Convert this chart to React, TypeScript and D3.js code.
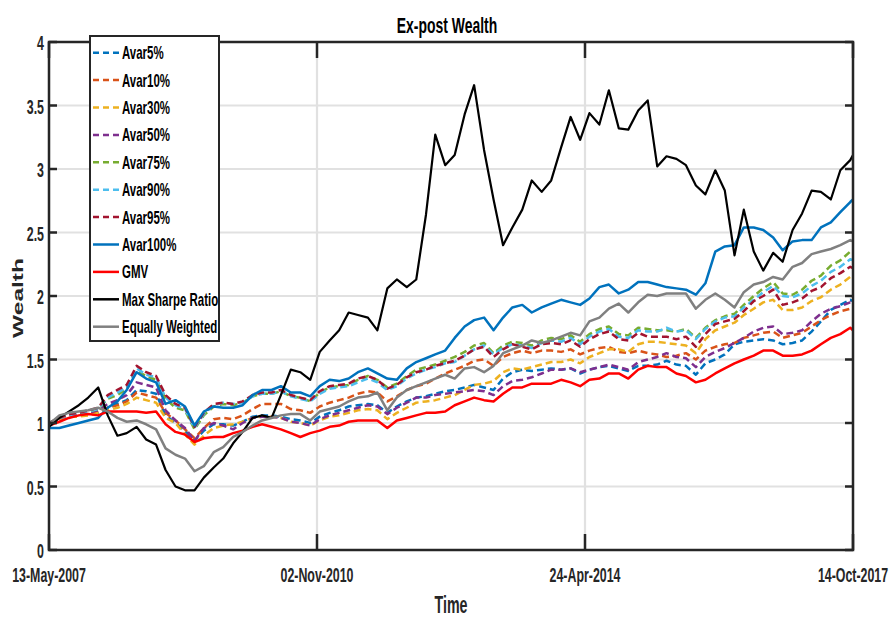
import React from 'react';
import * as d3 from 'd3';

// Sample dates (every ~1.5 months)
const dates = [
  "2007-05-13","2007-07-01","2007-08-15","2007-10-01","2007-11-15",
  "2008-01-01","2008-02-15","2008-04-01","2008-05-15","2008-07-01","2008-08-15","2008-10-01","2008-11-15",
  "2009-01-01","2009-02-15","2009-04-01","2009-05-15","2009-07-01","2009-08-15","2009-10-01","2009-11-15",
  "2010-01-01","2010-02-15","2010-04-01","2010-05-15","2010-07-01","2010-08-15","2010-10-01","2010-11-15",
  "2011-01-01","2011-02-15","2011-04-01","2011-05-15","2011-07-01","2011-08-15","2011-10-01","2011-11-15",
  "2012-01-01","2012-02-15","2012-04-01","2012-05-15","2012-07-01","2012-08-15","2012-10-01","2012-11-15",
  "2013-01-01","2013-02-15","2013-04-01","2013-05-15","2013-07-01","2013-08-15","2013-10-01","2013-11-15",
  "2014-01-01","2014-02-15","2014-04-01","2014-05-15","2014-07-01","2014-08-15","2014-10-01","2014-11-15",
  "2015-01-01","2015-02-15","2015-04-01","2015-05-15","2015-07-01","2015-08-15","2015-10-01","2015-11-15",
  "2016-01-01","2016-02-15","2016-04-01","2016-05-15","2016-07-01","2016-08-15","2016-10-01","2016-11-15",
  "2017-01-01","2017-02-15","2017-04-01","2017-05-15","2017-07-01","2017-08-15","2017-10-01","2017-10-14"
];

const avar5 = [
  1.00,1.03,1.05,1.06,1.07,1.08,1.12,1.15,1.18,1.26,
  1.25,1.23,1.06,1.00,0.94,0.86,0.94,0.99,0.99,0.98,
  1.01,1.05,1.06,1.06,1.05,1.03,1.02,1.00,1.05,1.08,
  1.10,1.13,1.14,1.15,1.14,1.08,1.13,1.17,1.20,1.21,
  1.23,1.25,1.26,1.28,1.30,1.28,1.26,1.35,1.40,1.42,
  1.41,1.42,1.43,1.42,1.43,1.39,1.42,1.44,1.45,1.43,
  1.41,1.45,1.45,1.46,1.49,1.46,1.45,1.38,1.47,1.50,
  1.54,1.62,1.64,1.65,1.66,1.65,1.62,1.63,1.65,1.72,
  1.80,1.89,1.93,1.97,1.96
];
const avar10 = [
  1.00,1.03,1.06,1.06,1.07,1.09,1.12,1.14,1.17,1.24,
  1.22,1.20,1.08,1.02,0.95,0.88,0.96,1.03,1.04,1.03,
  1.06,1.11,1.15,1.15,1.15,1.11,1.10,1.08,1.13,1.16,
  1.18,1.20,1.23,1.25,1.24,1.17,1.21,1.26,1.29,1.31,
  1.35,1.39,1.42,1.45,1.49,1.50,1.45,1.52,1.55,1.57,
  1.55,1.57,1.57,1.56,1.58,1.54,1.57,1.59,1.60,1.56,
  1.55,1.57,1.55,1.54,1.52,1.53,1.55,1.50,1.57,1.60,
  1.62,1.63,1.67,1.69,1.71,1.72,1.67,1.69,1.71,1.76,
  1.81,1.85,1.88,1.90,1.89
];
const avar30 = [
  1.00,1.03,1.05,1.05,1.06,1.08,1.10,1.12,1.15,1.20,
  1.18,1.16,1.04,1.00,0.91,0.83,0.90,0.96,0.98,0.99,
  1.01,1.04,1.05,1.05,1.04,1.01,1.00,0.98,1.02,1.05,
  1.06,1.08,1.10,1.11,1.10,1.03,1.08,1.12,1.16,1.17,
  1.18,1.20,1.22,1.26,1.30,1.31,1.33,1.40,1.43,1.42,
  1.44,1.46,1.48,1.48,1.50,1.47,1.52,1.55,1.58,1.58,
  1.56,1.62,1.64,1.64,1.63,1.62,1.61,1.55,1.66,1.73,
  1.76,1.79,1.85,1.90,1.95,1.97,1.89,1.89,1.91,1.96,
  1.99,2.05,2.09,2.15,2.14
];
const avar50 = [
  1.00,1.04,1.06,1.07,1.08,1.10,1.15,1.18,1.22,1.32,
  1.30,1.28,1.10,1.02,0.96,0.86,0.96,1.00,0.98,0.95,
  1.00,1.04,1.05,1.05,1.04,1.01,1.00,0.98,1.03,1.06,
  1.08,1.10,1.12,1.14,1.13,1.07,1.12,1.16,1.20,1.20,
  1.22,1.23,1.24,1.25,1.26,1.25,1.22,1.29,1.33,1.34,
  1.36,1.39,1.42,1.42,1.43,1.40,1.42,1.44,1.46,1.44,
  1.42,1.48,1.50,1.52,1.55,1.52,1.51,1.44,1.52,1.56,
  1.59,1.63,1.67,1.72,1.75,1.76,1.70,1.71,1.73,1.80,
  1.86,1.90,1.92,1.95,1.94
];
const avar75 = [
  1.00,1.04,1.07,1.08,1.09,1.11,1.19,1.22,1.27,1.41,
  1.37,1.34,1.19,1.12,1.10,0.95,1.06,1.13,1.15,1.14,
  1.16,1.21,1.23,1.23,1.25,1.21,1.20,1.17,1.24,1.28,
  1.29,1.30,1.34,1.37,1.34,1.28,1.31,1.37,1.42,1.44,
  1.46,1.49,1.52,1.56,1.61,1.63,1.55,1.61,1.64,1.63,
  1.61,1.65,1.67,1.66,1.69,1.64,1.70,1.74,1.76,1.70,
  1.69,1.75,1.74,1.73,1.73,1.72,1.74,1.67,1.75,1.81,
  1.84,1.86,1.93,2.00,2.06,2.11,2.02,2.01,2.05,2.12,
  2.16,2.24,2.28,2.35,2.34
];
const avar90 = [
  1.00,1.04,1.06,1.08,1.09,1.11,1.20,1.24,1.28,1.43,
  1.38,1.36,1.20,1.14,1.11,0.96,1.07,1.14,1.16,1.15,
  1.16,1.21,1.23,1.23,1.25,1.21,1.19,1.17,1.23,1.27,
  1.28,1.29,1.32,1.35,1.32,1.26,1.29,1.35,1.39,1.42,
  1.44,1.47,1.48,1.53,1.58,1.61,1.54,1.59,1.62,1.61,
  1.59,1.63,1.65,1.64,1.67,1.62,1.68,1.72,1.74,1.68,
  1.67,1.73,1.72,1.72,1.75,1.72,1.73,1.66,1.74,1.80,
  1.83,1.84,1.91,1.97,2.03,2.08,2.00,1.99,2.02,2.08,
  2.12,2.19,2.23,2.29,2.28
];
const avar95 = [
  1.00,1.04,1.07,1.08,1.10,1.12,1.22,1.26,1.30,1.45,
  1.40,1.37,1.22,1.15,1.12,0.97,1.08,1.15,1.16,1.15,
  1.17,1.22,1.24,1.24,1.26,1.22,1.20,1.18,1.25,1.29,
  1.30,1.31,1.35,1.37,1.34,1.27,1.30,1.36,1.40,1.42,
  1.45,1.47,1.49,1.53,1.58,1.60,1.52,1.58,1.62,1.60,
  1.58,1.62,1.63,1.62,1.65,1.60,1.66,1.70,1.72,1.66,
  1.65,1.71,1.68,1.68,1.68,1.66,1.68,1.60,1.70,1.78,
  1.80,1.82,1.88,1.96,2.00,2.05,1.93,1.95,1.98,2.04,
  2.07,2.14,2.18,2.23,2.22
];
const avar100 = [
  0.96,0.96,0.98,1.00,1.02,1.04,1.12,1.17,1.26,1.40,
  1.35,1.32,1.15,1.18,1.13,0.98,1.09,1.13,1.12,1.12,
  1.14,1.22,1.26,1.26,1.29,1.24,1.24,1.21,1.29,1.34,
  1.33,1.35,1.40,1.43,1.39,1.35,1.34,1.43,1.48,1.51,
  1.54,1.57,1.67,1.76,1.81,1.83,1.73,1.83,1.91,1.93,
  1.87,1.91,1.94,1.97,1.95,1.93,1.98,2.07,2.09,2.02,
  2.05,2.11,2.11,2.09,2.07,2.06,2.05,2.01,2.10,2.35,
  2.39,2.40,2.54,2.54,2.52,2.46,2.36,2.43,2.44,2.44,
  2.54,2.58,2.66,2.74,2.76
];
const gmv = [
  0.98,1.01,1.04,1.06,1.07,1.06,1.09,1.09,1.09,1.09,
  1.08,1.09,0.99,0.93,0.91,0.85,0.88,0.89,0.89,0.92,
  0.94,0.97,0.99,0.97,0.95,0.92,0.89,0.92,0.94,0.97,
  0.98,1.01,1.02,1.02,1.02,0.96,1.02,1.04,1.06,1.08,
  1.08,1.09,1.14,1.17,1.20,1.18,1.17,1.23,1.28,1.28,
  1.31,1.31,1.31,1.34,1.32,1.29,1.34,1.35,1.39,1.39,
  1.35,1.42,1.45,1.44,1.44,1.39,1.37,1.32,1.34,1.39,
  1.43,1.47,1.50,1.53,1.57,1.57,1.53,1.53,1.54,1.57,
  1.62,1.67,1.70,1.75,1.73
];
const maxSharpe = [
  0.97,1.04,1.09,1.14,1.20,1.28,1.06,0.90,0.92,0.97,
  0.87,0.83,0.63,0.50,0.47,0.47,0.57,0.65,0.72,0.84,
  0.93,1.04,1.06,1.04,1.22,1.42,1.40,1.34,1.56,1.65,
  1.73,1.87,1.85,1.83,1.73,2.06,2.13,2.07,2.13,2.64,
  3.27,3.03,3.11,3.43,3.66,3.15,2.76,2.40,2.54,2.68,
  2.91,2.82,2.91,3.17,3.41,3.23,3.44,3.35,3.62,3.32,
  3.31,3.46,3.54,3.02,3.10,3.08,3.03,2.87,2.80,2.99,
  2.83,2.32,2.68,2.35,2.20,2.34,2.27,2.52,2.65,2.83,
  2.82,2.76,2.99,3.07,3.11
];
const equalWeight = [
  0.99,1.06,1.08,1.09,1.10,1.12,1.09,1.04,1.01,1.02,
  0.99,0.95,0.80,0.75,0.72,0.62,0.66,0.77,0.81,0.89,
  0.93,0.98,1.02,1.04,1.06,1.07,1.07,1.02,1.09,1.11,
  1.13,1.17,1.20,1.21,1.24,1.10,1.20,1.26,1.29,1.32,
  1.35,1.38,1.35,1.43,1.44,1.40,1.45,1.55,1.58,1.61,
  1.65,1.63,1.65,1.68,1.71,1.69,1.80,1.83,1.90,1.94,
  1.87,1.95,2.01,2.00,2.02,2.02,2.02,1.90,1.97,2.02,
  1.97,1.91,2.03,2.09,2.11,2.15,2.13,2.23,2.26,2.33,
  2.35,2.37,2.40,2.44,2.43
];

const seriesNames = ["Avar5%","Avar10%","Avar30%","Avar50%","Avar75%","Avar90%","Avar95%","Avar100%","GMV","Max Sharpe Ratio","Equally Weighted"];
const seriesValues = [avar5, avar10, avar30, avar50, avar75, avar90, avar95, avar100, gmv, maxSharpe, equalWeight];
const seriesColors = ["#0072BD","#D95319","#EDB120","#7E2F8E","#77AC30","#4DBEEE","#A2142F","#0072BD","#FF0000","#000000","#808080"];
const seriesDashed = [true,true,true,true,true,true,true,false,false,false,false];

const xTickDates = ["2007-05-13","2010-11-02","2014-04-24","2017-10-14"];
const yTicks = [0,0.5,1,1.5,2,2.5,3,3.5,4];

const FONT = "'Liberation Sans', Arial, Helvetica, sans-serif";
const SX = 0.62;
const AX = "#262626";

export default function App() {
  const W = 891, H = 619;
  const left = 49, right = 853, top = 42, bottom = 550;
  const parse = d3.utcParse("%Y-%m-%d");
  const xd = dates.map(d => parse(d) as Date);
  const x = d3.scaleUtc().domain([xd[0], xd[xd.length - 1]]).range([left, right]);
  const y = d3.scaleLinear().domain([0, 4]).range([bottom, top]);
  const fmt = d3.utcFormat("%d-%b-%Y");
  const line = d3.line<number>().x((_, i) => x(xd[i])).y(v => y(v));
  const xTicks = xTickDates.map(d => parse(d) as Date);

  const legX = 90, legY = 36, legW = 129, legH = 305;
  const rowY0 = 52.7, rowStep = 27.4;

  return (
    <svg width={W} height={H} style={{ position: "absolute", left: 0, top: 0, background: "#fff" }}
      fontFamily={FONT} fontWeight="bold">
      <rect x={0} y={0} width={W} height={H} fill="#fff" />
      {/* grid */}
      {yTicks.map(t => (
        <line key={"gy" + t} x1={left} x2={right} y1={y(t)} y2={y(t)} stroke="#e1e1e1" strokeWidth={2.2} />
      ))}
      {xTicks.map((t, i) => (
        <line key={"gx" + i} x1={x(t)} x2={x(t)} y1={top} y2={bottom} stroke="#e1e1e1" strokeWidth={2.2} />
      ))}
      {/* series */}
      {seriesValues.map((vals, i) => (
        <path key={seriesNames[i]} d={line(vals) || ""} fill="none" stroke={seriesColors[i]}
          strokeWidth={i === 9 ? 2.2 : 2.5} strokeDasharray={seriesDashed[i] ? "7 4" : undefined}
          strokeLinejoin="round" />
      ))}
      {/* axes box */}
      <rect x={left} y={top} width={right - left} height={bottom - top} fill="none" stroke={AX} strokeWidth={2.5} />
      {yTicks.map(t => (
        <g key={"ty" + t}>
          <line x1={left} x2={left + 8} y1={y(t)} y2={y(t)} stroke={AX} strokeWidth={2.5} />
          <line x1={right - 8} x2={right} y1={y(t)} y2={y(t)} stroke={AX} strokeWidth={2.5} />
          <text transform={`translate(${left - 5},${y(t) + 8}) scale(${SX},1)`} textAnchor="end"
            fontSize={20} fill={AX}>{String(t)}</text>
        </g>
      ))}
      {xTicks.map((t, i) => (
        <g key={"tx" + i}>
          <line x1={x(t)} x2={x(t)} y1={bottom} y2={bottom - 16} stroke={AX} strokeWidth={2.5} />
          <line x1={x(t)} x2={x(t)} y1={top} y2={top + 16} stroke={AX} strokeWidth={2.5} />
          <text transform={`translate(${x(t)},${582}) scale(${SX},1)`} textAnchor="middle"
            fontSize={20} fill={AX}>{fmt(t)}</text>
        </g>
      ))}
      {/* titles */}
      <text transform={`translate(447,33) scale(${SX},1)`} textAnchor="middle" fontSize={22.5} fill="#000">Ex-post Wealth</text>
      <text transform={`translate(451,613) scale(${SX},1)`} textAnchor="middle" fontSize={23} fill={AX}>Time</text>
      <text transform={`translate(23,298) scale(${SX},1) rotate(-90)`} textAnchor="middle" fontSize={24.5} fill={AX}>Wealth</text>
      {/* legend */}
      <rect x={legX} y={legY} width={legW} height={legH} fill="#fff" stroke={AX} strokeWidth={2} />
      {seriesNames.map((n, i) => {
        const cy = rowY0 + rowStep * i;
        return (
          <g key={"lg" + i}>
            <line x1={93} x2={119} y1={cy} y2={cy} stroke={seriesColors[i]} strokeWidth={2.5}
              strokeDasharray={seriesDashed[i] ? "6 4" : undefined} />
            <text transform={`translate(122,${cy + 6.5}) scale(${SX},1)`} fontSize={18.5} fill="#000">{n}</text>
          </g>
        );
      })}
    </svg>
  );
}
